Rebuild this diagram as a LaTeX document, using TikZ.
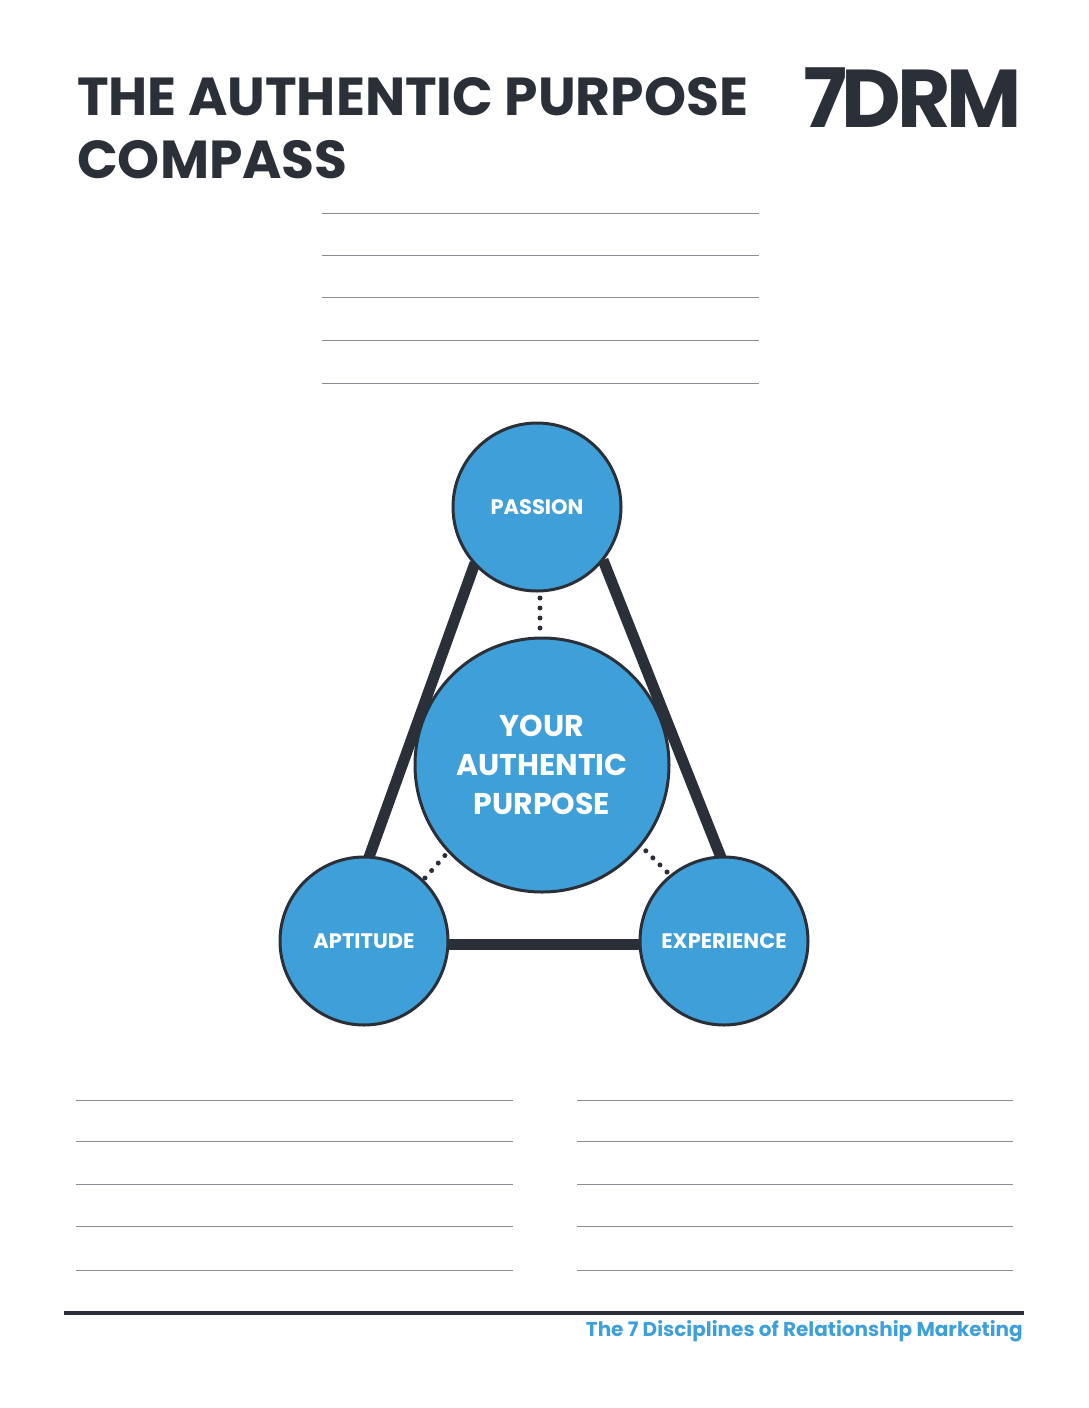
\documentclass[tikz,border=0pt]{standalone}
\usepackage{fontspec}
\setmainfont{Poppins}
\definecolor{cblue}{HTML}{3F9FD9}
\definecolor{cdark}{HTML}{2B3038}
\definecolor{cgray}{HTML}{8A8E94}
\begin{document}
\begin{tikzpicture}[x=1pt,y=-1pt,
  circ/.style={circle,draw=cdark,line width=3pt,fill=cblue,text=white,font=\bfseries,align=center,inner sep=0pt},
  edge/.style={cdark,line width=11pt},
  dots/.style={cdark,line width=5pt,dash pattern=on 0pt off 10pt,line cap=round},
  wline/.style={cgray,line width=1pt}]
\useasboundingbox (0,0) rectangle (1088,1408);
\node[anchor=base west,text=cdark,font=\fontsize{53.5}{60}\selectfont\bfseries,inner sep=0pt] (t1) at (77,115) {THE AUTHENTIC PURPOSE};
\node[anchor=base west,text=cdark,font=\fontsize{53.5}{60}\selectfont\bfseries,inner sep=0pt] (t2) at (77,178) {COMPASS};
\node[anchor=base east,text=cdark,font=\fontsize{82}{90}\selectfont\bfseries,inner sep=0pt] (logo) at (1022,127) {7\kern-6pt D\kern-4pt R\kern-4pt M};
\foreach \y in {213,255,297,340,383} \draw[wline] (322,\y) -- (759,\y);
\foreach \y in {1100,1141,1184,1226,1270} {\draw[wline] (76,\y) -- (513,\y); \draw[wline] (577,\y) -- (1013,\y);}
\coordinate (l1) at (475,563); \coordinate (l2) at (368,860);
\coordinate (r1) at (603,560); \coordinate (r2) at (722,860);
\coordinate (b1) at (445,944); \coordinate (b2) at (642,944);
\draw[edge] (l1) -- (l2); \draw[edge] (r1) -- (r2); \draw[edge] (b1) -- (b2);
\coordinate (d1) at (540,598); \coordinate (d2) at (540,632);
\coordinate (d3) at (425,878); \coordinate (d4) at (448,852);
\coordinate (d5) at (667,872); \coordinate (d6) at (643,848);
\draw[dots] (d1) -- (d2); \draw[dots] (d3) -- (d4); \draw[dots] (d5) -- (d6);
\node[circ,minimum size=168pt,font=\fontsize{21}{24}\selectfont\bfseries] (pas) at (537,507) {PASSION};
\node[circ,minimum size=168pt,font=\fontsize{21}{24}\selectfont\bfseries] (apt) at (364,941) {APTITUDE};
\node[circ,minimum size=168pt,font=\fontsize{21}{24}\selectfont\bfseries] (exp) at (724,941) {EXPERIENCE};
\node[circ,minimum size=254pt,font=\fontsize{30}{39}\selectfont\bfseries] (you) at (542,765) {YOUR\\AUTHENTIC\\PURPOSE};
\coordinate (f1) at (64,1313); \coordinate (f2) at (1024,1313);
\draw[cdark,line width=4pt] (f1) -- (f2);
\node[anchor=base east,text=cblue,font=\fontsize{20}{22}\selectfont\bfseries,inner sep=0pt] (foot) at (1023,1336) {The 7 Disciplines of Relationship Marketing};
\end{tikzpicture}
\end{document}
